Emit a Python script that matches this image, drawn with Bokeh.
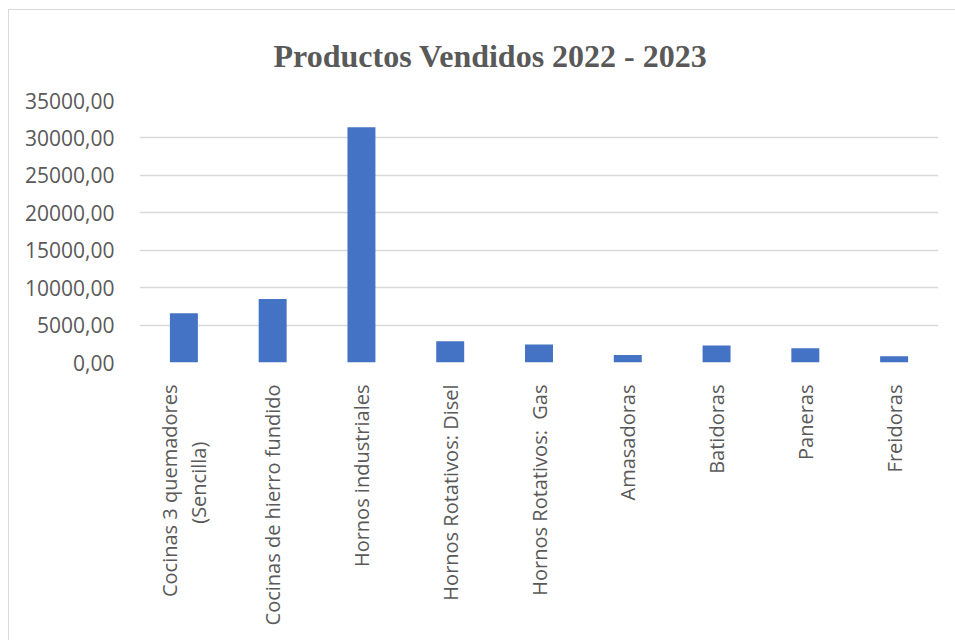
import math
from bokeh.plotting import figure
from bokeh.models import ColumnDataSource, FactorRange, Range1d, CustomJSTickFormatter, SingleIntervalTicker
from bokeh.embed import file_html
from bokeh.resources import INLINE

categories = [
    "Cocinas 3 quemadores\n(Sencilla)" + "\u00a0" * 11,
    "Cocinas de hierro fundido",
    "Hornos industriales",
    "Hornos Rotativos: Disel",
    "Hornos Rotativos:\u00a0 Gas",
    "Amasadoras",
    "Batidoras",
    "Paneras",
    "Freidoras",
]
values = [6580, 8490, 31440, 2830, 2400, 1010, 2270, 1910, 840]
title_text = "Productos Vendidos 2022 - 2023"

source = ColumnDataSource(data=dict(cat=categories, val=values))

p = figure(
    width=947, height=631,
    x_range=FactorRange(factors=categories, range_padding=0),
    y_range=Range1d(0, 35000),
    output_backend="svg", toolbar_location=None,
    min_border_left=130, min_border_right=18, min_border_top=90, min_border_bottom=279,
    title=title_text,
)
p.styles = {"border-left": "1px solid #d9d9d9", "border-top": "1px solid #d9d9d9",
            "margin-left": "8px", "margin-top": "9px"}

p.vbar(x="cat", top="val", width=0.315, source=source, fill_color="#4472C4", line_color=None)

p.title.text_font = "Liberation Serif"
p.title.text_font_size = "32px"
p.title.text_font_style = "bold"
p.title.text_color = "#595959"
p.title.align = "left"
p.title.offset = 134
p.title.vertical_align = "top"
p.title.standoff = 50

p.outline_line_color = None
p.xgrid.grid_line_color = None
p.ygrid.grid_line_color = "#d9d9d9"
p.ygrid.grid_line_width = 1.5

p.yaxis.ticker = SingleIntervalTicker(interval=5000)
p.yaxis.formatter = CustomJSTickFormatter(code="return tick.toFixed(2).replace('.', ',');")
for ax in (p.xaxis, p.yaxis):
    ax.axis_line_color = None
    ax.major_tick_line_color = None
    ax.minor_tick_line_color = None
    ax.major_label_text_font = "Open Sans"
    ax.major_label_text_color = "#595959"
p.xaxis.major_label_text_font_size = "20px"
p.yaxis.major_label_text_font_size = "21px"
p.yaxis.major_label_standoff = 19
p.xaxis.major_label_standoff = 16
p.xaxis.major_label_text_line_height = 1.05
p.xaxis.major_label_orientation = math.pi / 2

open("out.html", "w").write(file_html(p, INLINE))
